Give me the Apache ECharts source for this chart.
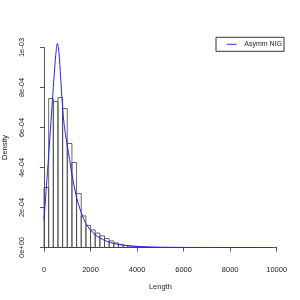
<!DOCTYPE html>
<html>
<head>
<meta charset="utf-8">
<script src="https://cdn.jsdelivr.net/npm/echarts@6/dist/echarts.min.js"></script>
<style>html,body{margin:0;padding:0;background:#fff}#c{width:300px;height:300px}</style>
</head>
<body>
<div id="c"></div>
<script>
// Histogram: bin width 200, starting at 0
const binWidth = 200;
const histDensity = [
  3.0e-4, 7.45e-4, 7.3e-4, 7.5e-4, 6.95e-4, 5.2e-4, 4.25e-4, 2.7e-4, 1.58e-4, 1.1e-4,
  8.8e-5, 7.2e-5, 5.8e-5, 4.5e-5, 3.3e-5, 2.3e-5, 1.6e-5, 1.1e-5, 8e-6, 6e-6,
  4e-6, 3e-6, 2e-6, 1e-6, 0, 0, 0, 0, 0, 0,
  0, 0, 0, 0, 0, 0, 0, 0, 0, 0,
  0, 0, 0, 0, 0, 0, 0, 0, 0
];
// Fitted Asymm NIG density curve
const curveX = [0, 100, 200, 300, 400, 480, 530, 575, 620, 660, 700, 770, 850, 1000, 1100, 1200, 1300, 1400, 1500, 1600, 1800, 2000, 2200, 2400, 2700, 3000, 3500, 4000, 4500, 5000, 6000, 7000, 8000, 9000, 9800];
const curveY = [1.4e-4, 3.0e-4, 4.6e-4, 6.3e-4, 8.0e-4, 9.3e-4, 9.9e-4, 1.02e-3, 1.0e-3, 9.5e-4, 8.8e-4, 7.5e-4, 6.3e-4, 5.1e-4, 4.4e-4, 3.65e-4, 3.05e-4, 2.5e-4, 2.1e-4, 1.75e-4, 1.2e-4, 8.7e-5, 6.4e-5, 4.8e-5, 3.1e-5, 2.0e-5, 1.0e-5, 5e-6, 2.5e-6, 1.5e-6, 5e-7, 2e-7, 1e-7, 0, 0];
const yTickLabels = ['0e+00', '2e-04', '4e-04', '6e-04', '8e-04', '1e-03'];
const xTickLabels = ['0', '2000', '4000', '6000', '8000', '10000'];
const seriesName = 'Asymm NIG';

const histData = histDensity.map((d, i) => [i * binWidth, (i + 1) * binWidth, d]);
const curveData = curveX.map((x, i) => [x, curveY[i]]);

const chart = echarts.init(document.getElementById('c'), null, {renderer: 'canvas'});
const font = 'Liberation Sans, Arial, sans-serif';
chart.setOption({
  animation: false,
  backgroundColor: '#fff',
  grid: {left: 44, right: 23.3, top: 47.5, bottom: 52.5, containLabel: false, outerBoundsMode: 'none'},
  legend: {
    data: [{name: seriesName, icon: 'rect'}],
    left: 216, top: 37.3,
    orient: 'vertical',
    borderColor: '#333', borderWidth: 1, borderRadius: 0,
    padding: [3.5, 2, 3.5, 10.7],
    itemWidth: 10, itemHeight: 1,
    itemStyle: {color: '#3333ff', borderWidth: 0},
    textStyle: {fontFamily: font, fontSize: 7, color: '#222', padding: [0, 0, 0, 2.6]}
  },
  xAxis: {
    type: 'value', min: 0, max: 10000, interval: 2000,
    offset: 9,
    axisLine: {show: true, lineStyle: {color: '#555', width: 1}},
    axisTick: {show: true, length: 4, lineStyle: {color: '#555'}},
    splitLine: {show: false},
    axisLabel: {
      margin: 9, fontFamily: font, fontSize: 7.5, color: '#222',
      formatter: (v) => xTickLabels[Math.round(v / 2000)]
    },
    name: 'Length', nameLocation: 'middle', nameGap: 26,
    nameTextStyle: {fontFamily: font, fontSize: 7.5, color: '#222'}
  },
  yAxis: {
    type: 'value', min: 0, max: 1e-3, interval: 2e-4,
    offset: 9,
    axisLine: {show: true, lineStyle: {color: '#555', width: 1}},
    axisTick: {show: true, length: 4, lineStyle: {color: '#555'}},
    splitLine: {show: false},
    axisLabel: {
      rotate: 90, margin: 9, fontFamily: font, fontSize: 7.5, color: '#222',
      formatter: (v) => yTickLabels[Math.round(v / 2e-4)]
    },
    name: 'Density', nameLocation: 'middle', nameGap: 26, nameRotate: 90,
    nameTextStyle: {fontFamily: font, fontSize: 7.5, color: '#222'}
  },
  series: [
    {
      type: 'custom',
      name: 'hist',
      data: histData,
      clip: false,
      renderItem: function (params, api) {
        const p0 = api.coord([api.value(0), api.value(2)]);
        const p1 = api.coord([api.value(1), 0]);
        return {
          type: 'rect',
          shape: {x: p0[0], y: p0[1], width: p1[0] - p0[0], height: p1[1] - p0[1]},
          style: {fill: 'rgba(0,0,0,0)', stroke: '#444', lineWidth: 0.8}
        };
      },
      z: 1
    },
    {
      type: 'line',
      name: seriesName,
      data: curveData,
      smooth: 0.3,
      symbol: 'none',
      clip: false,
      lineStyle: {color: '#2222ff', width: 1},
      itemStyle: {color: '#2222ff'},
      z: 3
    }
  ]
});
</script>
</body>
</html>
